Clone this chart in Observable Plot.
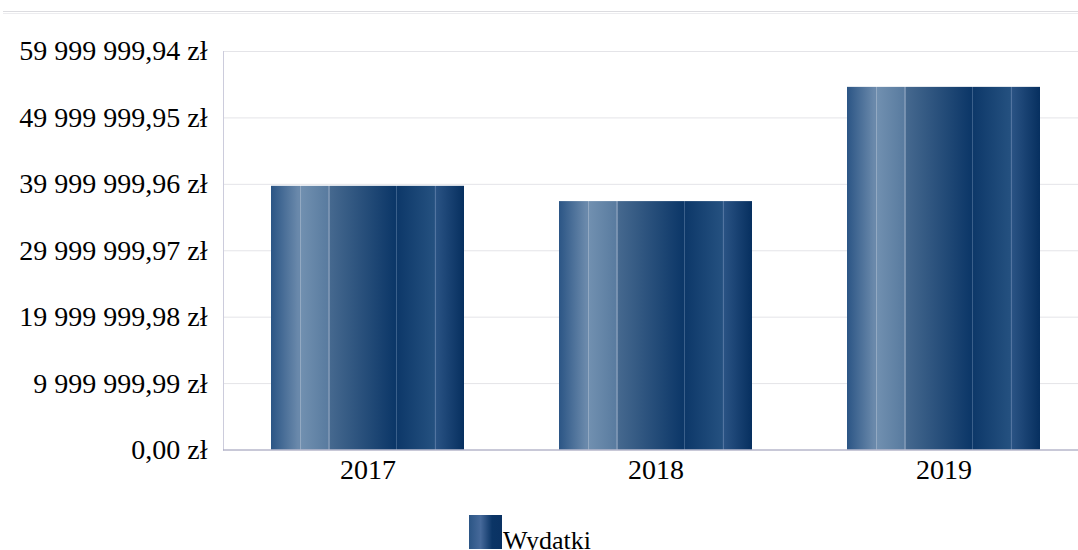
<!DOCTYPE html>
<html>
<head>
<meta charset="utf-8">
<script src="https://cdn.jsdelivr.net/npm/d3@7"></script>
<script src="https://cdn.jsdelivr.net/npm/@observablehq/plot@0.6"></script>
<style>
  html, body { margin: 0; padding: 0; background: #fff; overflow: hidden; width: 1078px; height: 550px; }
  #topline { position: absolute; left: 3px; right: 0; top: 11px; height: 1px; border-top: 1px solid #dcdce0; border-bottom: 1px solid #ececef; }
  #chart { position: absolute; left: 0; top: 0; }
  #legend { position: absolute; left: 469px; top: 515px; display: flex; align-items: flex-end; font-family: "Liberation Serif", "Times New Roman", serif; font-size: 26px; color: #000; }
  #legend .sw { width: 33px; height: 34px; background: linear-gradient(to right, #2b5585 0%, #46699a 35%, #0b3566 70%, #0a3263 100%); }
  #legend span { line-height: 26px; margin-bottom: -5px; margin-left: 1px; }
</style>
</head>
<body>
<div id="topline"></div>
<div id="chart"></div>
<div id="legend"><div class="sw"></div><span>Wydatki</span></div>
<script>
const years = ["2017", "2018", "2019"];
const expenses = [39700000, 37400000, 54600000];
const tickValues = [0, 9999999.99, 19999999.98, 29999999.97, 39999999.96, 49999999.95, 59999999.94];
const tickLabels = ["0,00 zł", "9 999 999,99 zł", "19 999 999,98 zł", "29 999 999,97 zł", "39 999 999,96 zł", "49 999 999,95 zł", "59 999 999,94 zł"];

const data = years.map((y, i) => ({year: y, value: expenses[i]}));

const chart = Plot.plot({
  width: 1078,
  height: 500,
  marginLeft: 223,
  marginRight: 0,
  marginTop: 51,
  marginBottom: 50.5,
  style: {fontFamily: "'Liberation Serif', 'Times New Roman', serif", fontSize: "28px", color: "#000", background: "transparent", overflow: "visible"},
  x: {domain: years, range: [223, 1088], paddingInner: 0.33, paddingOuter: 0.165, label: null},
  y: {domain: [0, 59999999.94], label: null},
  marks: [
    Plot.ruleY(tickValues, {stroke: "#e4e4e8", strokeWidth: 1}),
    Plot.barY(data, {x: "year", y: "value", fill: "url(#barGrad)"}),
    Plot.frame({anchor: "left", stroke: "#ccccdc"}),
    Plot.ruleY([0], {stroke: "#a0a0bc", strokeWidth: 1}),
    Plot.axisY({ticks: tickValues, tickSize: 0, tickPadding: 16, tickFormat: (d) => tickLabels[tickValues.indexOf(d)], fontSize: 28, label: null}),
    Plot.axisX({tickSize: 0, tickPadding: 9, fontSize: 28, label: null})
  ]
});

const svg = d3.select(chart);
const defs = svg.insert("defs", ":first-child");
const grad = defs.append("linearGradient").attr("id", "barGrad").attr("x1", "0").attr("y1", "0").attr("x2", "1").attr("y2", "0");
const stops = [
  [0, "#2b5585"], [0.14, "#6a89ab"], [0.148, "#6a89ab"], [0.149, "#93a9c2"], [0.154, "#93a9c2"], [0.155, "#7190b0"],
  [0.29, "#5a7ca0"], [0.297, "#5a7ca0"], [0.298, "#7c95b3"], [0.303, "#7c95b3"], [0.304, "#46698f"],
  [0.64, "#0c3768"], [0.647, "#0c3768"], [0.648, "#3a5f8a"], [0.653, "#3a5f8a"], [0.654, "#0d3869"],
  [0.84, "#24507f"], [0.847, "#24507f"], [0.848, "#5274a0"], [0.853, "#5274a0"], [0.854, "#2a5384"],
  [1, "#062f5f"]
];
stops.forEach(([o, c]) => grad.append("stop").attr("offset", o).attr("stop-color", c));

document.getElementById("chart").appendChild(chart);
</script>
</body>
</html>
